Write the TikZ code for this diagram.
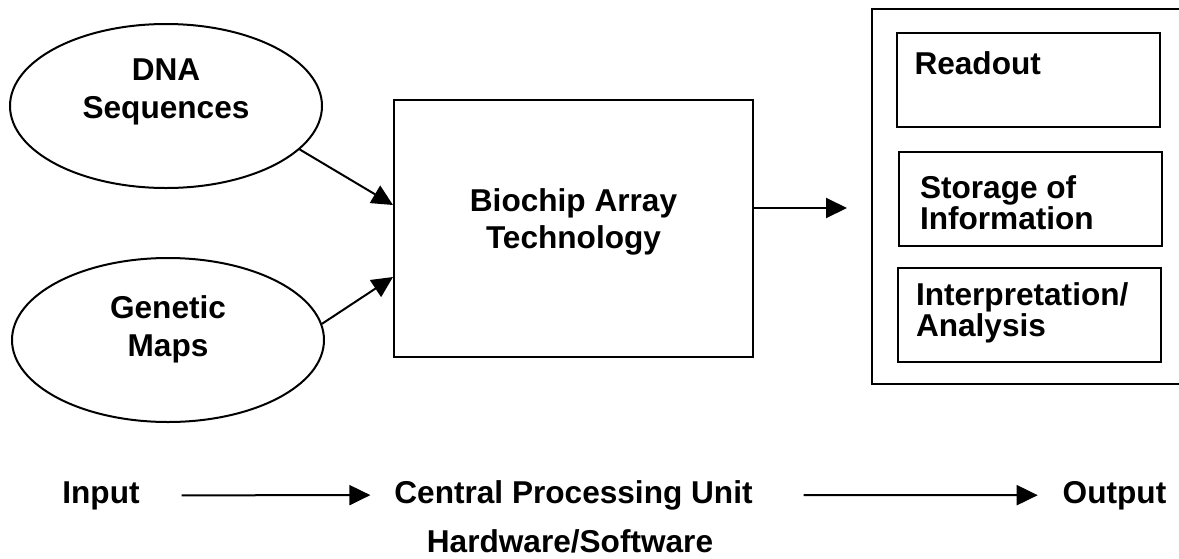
\documentclass[tikz,border=0pt]{standalone}
\usepackage{fontspec}
\setmainfont{Liberation Sans}
\usetikzlibrary{arrows.meta,shapes.geometric}

\begin{document}
\begin{tikzpicture}[
		x=0.5pt, y=-0.5pt,
		line width=1pt,
		font=\bfseries\fontsize{15.8}{19}\selectfont,
		every node/.style={inner sep=0pt},
		source/.style={draw, ellipse, minimum width=156pt, minimum height=82pt},
		unit/.style={draw, rectangle, minimum width=179.5pt, minimum height=128.5pt},
		frame/.style={draw, rectangle, minimum width=159pt, minimum height=187.5pt},
		result/.style={draw, rectangle, minimum width=131.5pt, minimum height=47pt},
		lines/.style={align=left, anchor=west, font=\bfseries\fontsize{15.8}{15.5}\selectfont},
		flow/.style={-{Triangle[length=10.5pt,width=10pt]}}
	]
	\useasboundingbox (0,0) rectangle (1179,558);

	% inputs
	\node[source] (dna) at (166,106) {};
	\node[align=center] (dnatext) at ([yshift=7pt]dna.center) {DNA\\Sequences};
	\node[source] (maps) at (168,340) {};
	\node[align=center] (mapstext) at ([yshift=5.5pt]maps.center) {Genetic\\Maps};

	% processing
	\node[unit] (chip) at (573.5,228.5) {};
	\node[align=center, font=\bfseries\fontsize{15.8}{18.5}\selectfont] (chiptext)
		at ([yshift=3.5pt]chip.center) {Biochip Array\\Technology};

	% outputs
	\node[frame] (store) at (1031,196.5) {};
	\node[result] (readout) at (1028,79.5) {};
	\node[lines] (readtext) at ([xshift=9pt,yshift=8.25pt]readout.west) {Readout};
	\node[result] (storage) at (1030.5,198.5) {};
	\node[lines] (storetext) at ([xshift=10.5pt,yshift=-2pt]storage.west) {Storage of\\Information};
	\node[result] (interp) at (1029.5,315) {};
	\node[lines] (interptext) at ([xshift=9pt,yshift=1pt]interp.west) {Interpretation/\\Analysis};

	\draw[flow] (dna.-18) -- ([yshift=11.75pt]chip.west);
	\draw[flow] (maps.6) -- ([yshift=-24.25pt]chip.west);
	\draw[flow, shorten >=12pt] ([yshift=10.25pt]chip.east) -- ([yshift=-5.75pt]store.west);

	% bottom line
	\node[anchor=base] (input) at (101,503) {Input};
	\node[anchor=base] (cpu) at (573.5,503) {Central Processing Unit};
	\node[anchor=base] (output) at (1114.5,503) {Output};
	\node[anchor=base] (hwsw) at (570,552) {Hardware/Software};

	\draw[flow, shorten <=20.5pt, shorten >=11.5pt] (input) -- (cpu);
	\draw[flow, shorten <=25pt, shorten >=12pt] (cpu) -- (output);
\end{tikzpicture}
\end{document}
